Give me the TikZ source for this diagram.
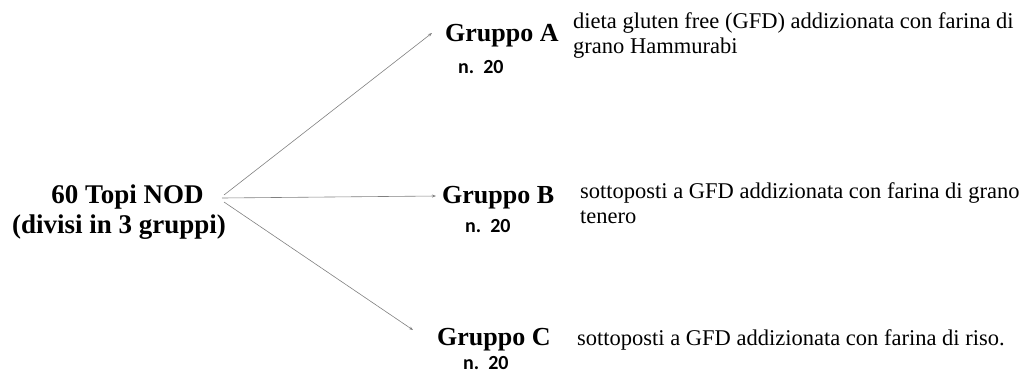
\documentclass[tikz,border=0pt]{standalone}
\usepackage{fontspec}
\setmainfont{Liberation Serif}
\newfontfamily\nfont{Carlito}
\usetikzlibrary{arrows.meta}
\tikzset{
  src/.style={font=\bfseries\fontsize{27}{29}\selectfont, inner sep=0pt, anchor=base},
  grp/.style={font=\bfseries\fontsize{26}{28}\selectfont, inner sep=0pt, anchor=base west},
  num/.style={font=\nfont\bfseries\fontsize{20}{22}\selectfont, inner sep=0pt, anchor=base west},
  desc/.style={font=\fontsize{22.5}{25}\selectfont, inner sep=0pt, anchor=base west, align=left},
  conn/.style={draw=black!50, line width=0.6pt, -{Stealth[length=4pt,width=3pt]}}
}
\begin{document}
\begin{tikzpicture}[x=1pt,y=-1pt]
\useasboundingbox (0,0) rectangle (1031,373);
\node[src] (s1) at (127.5,203) {60 Topi NOD};
\node[src] (s2) at (119,233) {(divisi in 3 gruppi)};
\coordinate (o) at (222,198);

\node[grp] (ga) at (445,41) {Gruppo A};
\node[num] (na) at (458,73) {n.\ \ 20};
\node[desc] (da) at (573,53) {dieta gluten free (GFD) addizionata con farina di\\grano Hammurabi};

\node[grp] (gb) at (442,203) {Gruppo B};
\node[num] (nb) at (465,232) {n.\ \ 20};
\node[desc] (db) at (580,223) {sottoposti a GFD addizionata con farina di grano\\tenero};

\node[grp] (gc) at (437,345) {Gruppo C};
\node[num] (nc) at (463,369) {n.\ \ 20};
\node[desc] (dc) at (577,345) {sottoposti a GFD addizionata con farina di riso.};

\coordinate (ea) at (432,33);
\coordinate (eb) at (436,196);
\coordinate (ec) at (413,330);
\draw[conn] (o) ++(2,-3) -- (ea);
\draw[conn] (o) -- (eb);
\draw[conn] (o) ++(2,4) -- (ec);
\end{tikzpicture}
\end{document}
